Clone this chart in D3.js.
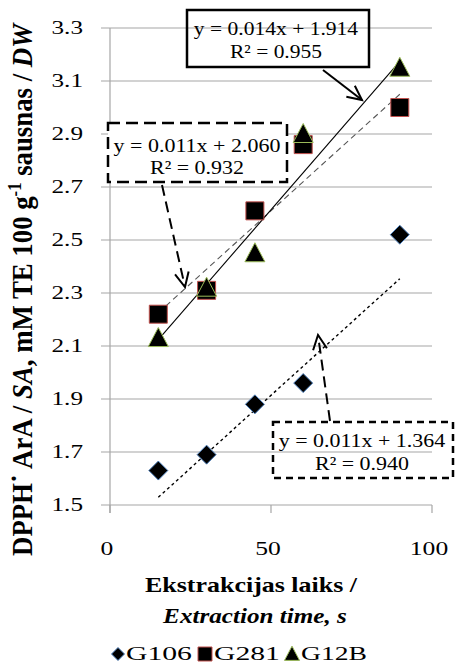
<!DOCTYPE html>
<html>
<head>
<meta charset="utf-8">
<script src="https://cdn.jsdelivr.net/npm/d3@7"></script>
<style>
  html, body { margin: 0; padding: 0; background: #fff; }
  svg { display: block; }
</style>
</head>
<body>
<svg id="chart" width="455" height="663" font-family="'Liberation Serif', Tinos, 'DejaVu Serif', serif"></svg>
<script>
// Extraction time (s) and DPPH activity for three samples
const times = [15, 30, 45, 60, 90];
const g106 = [1.63, 1.69, 1.88, 1.96, 2.52];
const g281 = [2.22, 2.31, 2.61, 2.86, 3.00];
const g12b = [2.13, 2.32, 2.45, 2.90, 3.15];

const seriesNames = ["G106", "G281", "G12B"];

// Linear trend lines as reported: y = slope * x + intercept
const trendSlope = [0.011, 0.011, 0.014];
const trendIntercept = [1.364, 2.060, 1.914];
const trendR2 = [0.940, 0.932, 0.955];

const yTicks = [1.5, 1.7, 1.9, 2.1, 2.3, 2.5, 2.7, 2.9, 3.1, 3.3];
const xTicks = [0, 50, 100];

const svg = d3.select("#chart");
const x = d3.scaleLinear().domain([0, 100]).range([110, 432]);
const y = d3.scaleLinear().domain([1.5, 3.3]).range([505, 28]);

const gridColor = "#a6a6a6";

// Stretch a text node (in its own frame) to a target width, optional vertical scale
function fitWidth(node, target, anchorX, anchorY, sy = 1) {
  const w = node.getBBox().width;
  const s = target / w;
  d3.select(node).attr("transform",
    `translate(${anchorX},${anchorY}) scale(${s},${sy}) translate(${-anchorX},${-anchorY})`);
}

// Horizontal grid lines (extend left past the axis as tick marks)
svg.append("g").selectAll("line").data(yTicks).join("line")
  .attr("x1", 101).attr("x2", x(100))
  .attr("y1", d => y(d)).attr("y2", d => y(d))
  .attr("stroke", gridColor).attr("stroke-width", 1.2);

// Y axis line
svg.append("line").attr("x1", x(0)).attr("x2", x(0))
  .attr("y1", y(3.3)).attr("y2", y(1.5) + 8)
  .attr("stroke", gridColor).attr("stroke-width", 1.2);

// X axis tick marks
svg.append("g").selectAll("line").data(xTicks).join("line")
  .attr("x1", d => x(d)).attr("x2", d => x(d))
  .attr("y1", y(1.5)).attr("y2", y(1.5) + 8)
  .attr("stroke", gridColor).attr("stroke-width", 1.2);

// Y tick labels
svg.append("g").selectAll("text").data(yTicks).join("text")
  .attr("x", 83).attr("y", d => y(d) + 6.5)
  .attr("text-anchor", "end").attr("font-size", 19)
  .text(d => d.toFixed(1))
  .each(function() { fitWidth(this, 31.5, 83, 0); });

// X tick labels
svg.append("g").selectAll("text").data(xTicks).join("text")
  .attr("x", d => x(d) - 3).attr("y", 555)
  .attr("text-anchor", "middle").attr("font-size", 19)
  .text(d => d)
  .each(function(d) { fitWidth(this, String(d).length * 12.8, x(d) - 3, 0); });

// Trend lines
const trendStyle = [
  { dash: "3,3", color: "#000", width: 1.4 },
  { dash: "6,4", color: "#555", width: 1.1 },
  { dash: null, color: "#000", width: 1.1 }
];
const x0 = d3.min(times), x1 = d3.max(times);
trendSlope.forEach((m, i) => {
  svg.append("line")
    .attr("x1", x(x0)).attr("y1", y(m * x0 + trendIntercept[i]))
    .attr("x2", x(x1)).attr("y2", y(m * x1 + trendIntercept[i]))
    .attr("stroke", trendStyle[i].color)
    .attr("stroke-width", trendStyle[i].width)
    .attr("stroke-dasharray", trendStyle[i].dash);
});

// Marker shapes
const diamond = (cx, cy, r) => `M${cx},${cy - r}L${cx + r},${cy}L${cx},${cy + r}L${cx - r},${cy}Z`;
const square = (cx, cy, r) => `M${cx - r},${cy - r}H${cx + r}V${cy + r}H${cx - r}Z`;
const triangle = (cx, cy, r) => `M${cx},${cy - r * 1.05}L${cx + r},${cy + r * 0.85}L${cx - r},${cy + r * 0.85}Z`;

const markerDefs = [
  { values: g106, shape: diamond, r: 9.5, stroke: "#4f81bd" },
  { values: g281, shape: square, r: 9, stroke: "#c0504d" },
  { values: g12b, shape: triangle, r: 10, stroke: "#9bbb59" }
];

markerDefs.forEach(md => {
  svg.append("g").selectAll("path").data(md.values).join("path")
    .attr("d", (v, j) => md.shape(x(times[j]), y(v), md.r))
    .attr("fill", "#000").attr("stroke", md.stroke).attr("stroke-width", 1);
});

// Arrow with open head
function arrow(xa, ya, xb, yb, dash, width) {
  const g = svg.append("g").attr("stroke", "#000").attr("fill", "none")
    .attr("stroke-width", width);
  g.append("line").attr("x1", xa).attr("y1", ya).attr("x2", xb).attr("y2", yb)
    .attr("stroke-dasharray", dash);
  const ang = Math.atan2(yb - ya, xb - xa);
  const L = 16, spread = 0.45;
  const p1 = [xb - L * Math.cos(ang - spread), yb - L * Math.sin(ang - spread)];
  const p2 = [xb - L * Math.cos(ang + spread), yb - L * Math.sin(ang + spread)];
  g.append("path").attr("d", `M${p1[0]},${p1[1]}L${xb},${yb}L${p2[0]},${p2[1]}`);
}

// Equation boxes
const eqLabel = i => `y = ${trendSlope[i].toFixed(3)}x + ${trendIntercept[i].toFixed(3)}`;
const r2Label = i => `R² = ${trendR2[i].toFixed(3)}`;

const boxes = [
  { i: 2, x: 187, y: 10, w: 182, h: 57, dash: null, fill: "none", cx: 276, b1: 35, b2: 58, w1: 165, w2: 92 },
  { i: 1, x: 108, y: 123, w: 179, h: 59, dash: "12,6", fill: "#fff", cx: 197, b1: 152, b2: 174, w1: 167, w2: 94 },
  { i: 0, x: 273, y: 422, w: 180, h: 56, dash: "7,5", fill: "none", cx: 362, b1: 447, b2: 470, w1: 167, w2: 94 }
];

// Arrows (drawn before boxes so the filled box sits on top)
arrow(323, 70, 362, 100, null, 2);
arrow(162, 185, 185, 287, "11,6", 2);
arrow(330, 421, 318, 335, "11,6", 2);

boxes.forEach(b => {
  svg.append("rect").attr("x", b.x).attr("y", b.y).attr("width", b.w).attr("height", b.h)
    .attr("fill", b.fill).attr("stroke", "#000").attr("stroke-width", 2.5)
    .attr("stroke-dasharray", b.dash);
  svg.append("text").attr("x", b.cx).attr("y", b.b1).attr("text-anchor", "middle")
    .attr("font-size", 19).text(eqLabel(b.i))
    .each(function() { fitWidth(this, b.w1, b.cx, 0); });
  svg.append("text").attr("x", b.cx).attr("y", b.b2).attr("text-anchor", "middle")
    .attr("font-size", 19).text(r2Label(b.i))
    .each(function() { fitWidth(this, b.w2, b.cx, 0); });
});

// X axis title
svg.append("text").attr("x", 251).attr("y", 592).attr("text-anchor", "middle")
  .attr("font-size", 22).attr("font-weight", "bold").text("Ekstrakcijas laiks /")
  .each(function() { fitWidth(this, 213, 251, 0); });
svg.append("text").attr("x", 255).attr("y", 623).attr("text-anchor", "middle")
  .attr("font-size", 22).attr("font-weight", "bold").attr("font-style", "italic")
  .text("Extraction time, s")
  .each(function() { fitWidth(this, 185, 255, 0); });

// Y axis title (rotated)
const yt = svg.append("g").attr("transform", "translate(32,290) rotate(-90)");
const ytText = yt.append("text").attr("text-anchor", "middle")
  .attr("font-size", 21).attr("font-weight", "bold");
ytText.append("tspan").text("DPPH˙ ArA / ");
ytText.append("tspan").attr("font-style", "italic").text("SA");
ytText.append("tspan").text(", mM TE 100 g");
ytText.append("tspan").attr("font-size", 13).attr("dy", -8).text("-1");
ytText.append("tspan").attr("dy", 8).text(" sausnas / ");
ytText.append("tspan").attr("font-style", "italic").text("DW");
ytText.each(function() { fitWidth(this, 534, 0, 0, 1.4); });

// Legend
const legend = svg.append("g");
const legendItems = [
  { shape: diamond, r: 6.5, stroke: "#4f81bd", mx: 118, tx: 126 },
  { shape: square, r: 7, stroke: "#c0504d", mx: 205, tx: 214 },
  { shape: triangle, r: 7.5, stroke: "#9bbb59", mx: 292, tx: 301 }
];
legendItems.forEach((it, i) => {
  legend.append("path").attr("d", it.shape(it.mx, 654, it.r))
    .attr("fill", "#000").attr("stroke", it.stroke).attr("stroke-width", 1);
  legend.append("text").attr("x", it.tx).attr("y", 660).attr("font-size", 19)
    .text(seriesNames[i])
    .each(function() { fitWidth(this, 66, it.tx, 0); });
});
</script>
</body>
</html>
